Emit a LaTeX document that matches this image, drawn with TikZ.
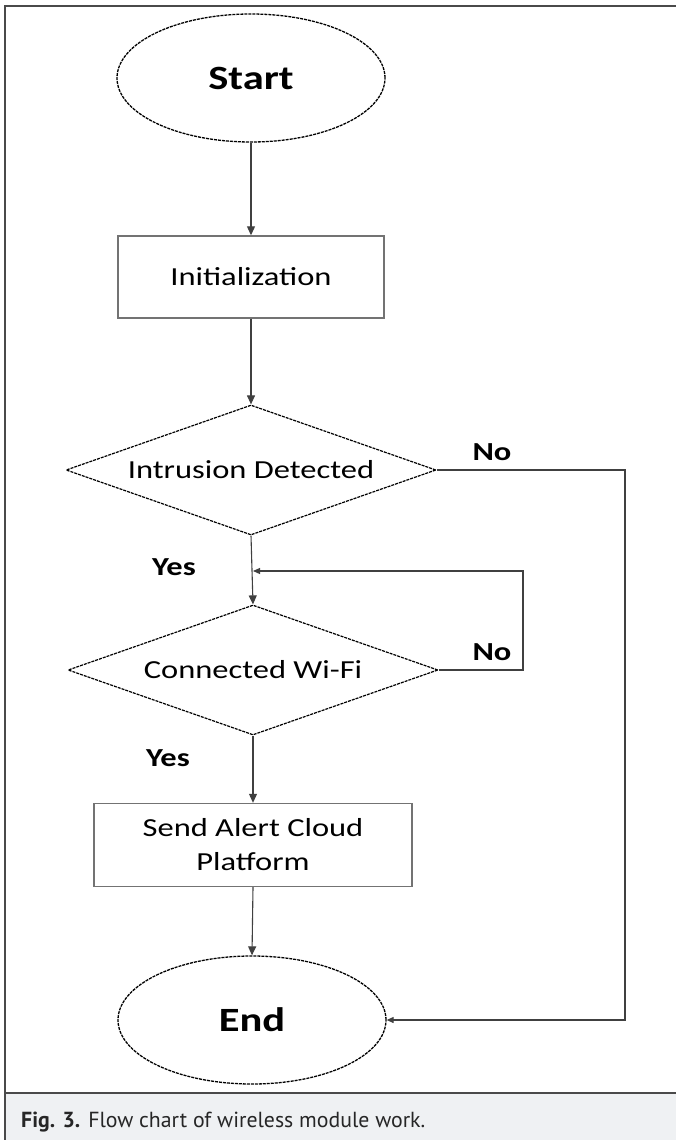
\documentclass[tikz,border=0pt]{standalone}
\usepackage{fontspec}
\newfontfamily\calf[FakeStretch=1.25]{Carlito}
\newfontfamily\capf{PT Sans}
\usetikzlibrary{shapes.geometric,arrows.meta}
\definecolor{capbg}{HTML}{EFF1F3}
\definecolor{framec}{HTML}{4A4A4A}
\begin{document}
\begin{tikzpicture}[x=1pt,y=-1pt,
  ln/.style={draw=black!75, line width=1.1pt},
  term/.style={ellipse, draw=black, line width=1.3pt, dash pattern=on 3pt off 1pt,
    minimum width=268pt, minimum height=128pt, inner sep=0pt,
    font=\calf\bfseries\fontsize{34}{40}\selectfont},
  proc/.style={rectangle, draw=black!55, line width=1.4pt, inner sep=0pt,
    font=\calf\fontsize{26}{34}\selectfont, align=center},
  dec/.style={diamond, shape aspect=2.85, draw=black, line width=1.2pt, dash pattern=on 3pt off 1pt,
    minimum width=370pt, minimum height=130pt, inner sep=0pt,
    font=\calf\fontsize{26}{30}\selectfont},
  lbl/.style={font=\calf\bfseries\fontsize{26}{30}\selectfont, inner sep=0pt},
  arr/.style={ln, -{Triangle[length=9pt,width=8pt]}},
  sarr/.style={ln, -{Triangle[length=7pt,width=6pt]}}
]
\useasboundingbox (0,0) rectangle (676,1140);
% frame and caption band
\fill[capbg] (5,1094) rectangle (676,1140);
\draw[framec, line width=2pt] (5,1140) -- (5,6) -- (676,6);
\draw[framec, line width=2pt] (5,1093) -- (676,1093);
\node[anchor=base west, inner sep=0pt, font=\capf\fontsize{21.8}{26}\selectfont, text=black!85] (cap) at (21,1127)
  {\textbf{Fig. 3.}\hspace{8pt}Flow chart of wireless module work.};

% nodes
\node[term] (start) at (251,78) {Start};
\node[proc, minimum width=266pt, minimum height=82pt] (init) at (251,277) {Initialization};
\node[dec] (d1) at (251,470) {Intrusion Detected};
\node[dec] (d2) at (253,670) {Connected Wi-Fi};
\node[proc, minimum width=318pt, minimum height=83pt] (send) at (253,845) {Send Alert Cloud\\Platform};
\node[term] (end) at (252,1020) {End};

% labels
\node[lbl] (no1) at (492,452) {No};
\node[lbl] (no2) at (492,652) {No};
\node[lbl] (yes1) at (174,567) {Yes};
\node[lbl] (yes2) at (168,758) {Yes};

% helper coordinates
\coordinate (rr) at (625,740);
\coordinate (lp) at (523,620);
\coordinate (jn) at (253,571);

% connectors
\draw[arr] (start.south) -- (init.north);
\draw[arr] (init.south) -- (d1.north);
\draw[arr] (d1.south) -- (d2.north);
\draw[arr] (d2.south) -- (send.north);
\draw[arr] (send.south) -- (end.north);
\draw[sarr] (d1.east) -| (rr) |- (end.east);
\draw[sarr] (d2.east) -| (lp) |- (jn);
\end{tikzpicture}
\end{document}
